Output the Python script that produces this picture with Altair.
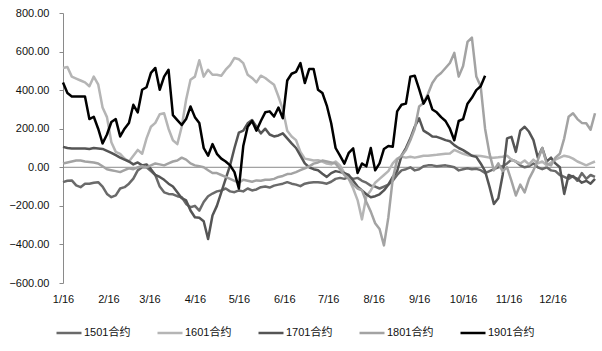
import altair as alt
import pandas as pd

# sample dates (every 3 days) on the month/day axis
dates = pd.date_range("2018-01-16", periods=122, freq="3D").strftime("%Y-%m-%d").tolist()

names = ["1501合约", "1601合约", "1701合约", "1801合约", "1901合约"]

s1501 = [-77, -70, -68, -94, -103, -85, -85, -80, -77, -100,
         -138, -155, -146, -110, -103, -85, -59, -16, 0, 0,
         -20, -40, -100, -130, -138, -140, -150, -155, -190, -207,
         -200, -225, -180, -150, -136, -125, -120, -110, -125, -129,
         -120, -125, -110, -120, -115, -103, -100, -105, -95, -90,
         -85, -77, -85, -90, -98, -85, -80, -78, -77, -80,
         -85, -75, -60, -55, -60, -50, -60, -55, -70, -80,
         -95, -100, -110, -100, -90, -70, -40, -16, -10, 0,
         -16, -10, 5, 10, 10, 5, 8, 10, 5, 0,
         -16, -10, -5, -10, -8, -15, -30, -20, -10, 0,
         5, 20, 40, 30, 10, 0, 5, 20, 0, -10,
         0, -16, -20, -40, -50, -60, -45, -70, -30, -60,
         -40, -50]

s1601 = [515, 520, 470, 460, 450, 440, 420, 470, 430, 310,
         260, 130, 80, 70, 45, 30, 60, 90, 70, 150,
         210, 230, 275, 280, 200, 140, 120, 210, 350, 454,
         470, 555, 470, 506, 480, 480, 475, 506, 530, 567,
         560, 540, 480, 463, 440, 475, 463, 445, 428, 367,
         300, 190, 160, 141, 80, 45, 40, 35, 37, 30,
         19, 15, 30, 10, -30, -60, -110, -170, -270, -150,
         -120, -80, -60, -40, -20, 20, 45, 55, 50, 55,
         50, 55, 60, 60, 63, 65, 68, 70, 72, 90,
         80, 70, 63, 60, 60, 58, 55, 50, 50, 52,
         55, 60, 40, 30, 20, 35, 15, 40, 20, 30,
         10, 25, 40, 50, 60, 55, 45, 30, 20, 10,
         20, 30]

s1701 = [106, 100, 98, 98, 98, 98, 95, 100, 98, 95,
         85, 75, 63, 50, 40, 30, 15, 25, 10, 15,
         -10, -40, -50, -65, -85, -100, -130, -160, -172, -224,
         -259, -262, -280, -372, -250, -200, -130, -60, 10, 100,
         180, 190, 228, 245, 210, 176, 200, 170, 160, 165,
         176, 150, 124, 100, 60, 20, 0, -10, -15, -33,
         -50, -30, -20, -25, -30, -40, -70, -100, -120, -140,
         -155, -150, -140, -120, -90, -50, -20, 60, 100, 150,
         210, 254, 190, 176, 160, 158, 150, 141, 135, 115,
         100, 89, 75, 60, 54, 20, -20, -100, -190, -160,
         -40, 150, 158, 80, 190, 210, 184, 141, 50, 100,
         30, 50, 20, 0, -138, -40, -50, -60, -80, -70,
         -85, -60]

s1801 = [20, 25, 30, 35, 35, 30, 28, 25, 20, 5,
         -10, -15, -20, -25, -15, -5, -10, 0, 5, 0,
         10, 20, 15, 10, 20, 30, 35, 50, 40, 20,
         10, 5, 0, -15, -30, -30, -40, -50, -60, -70,
         -80, -65, -70, -75, -68, -70, -65, -65, -60, -50,
         -45, -35, -33, -25, -15, -5, 5, 19, 25, 35,
         30, 25, 20, -10, -40, -60, -90, -110, -120, -180,
         -230, -290, -320, -405, -260, -60, 40, 60, 90, 140,
         200, 315, 333, 380, 437, 470, 489, 515, 541, 593,
         470, 525, 650, 672, 471, 420, 200, 71, -16, 20,
         -20, 0, -70, -146, -90, -130, -60, -16, 37, 100,
         20, 10, 50, 70, 150, 262, 280, 250, 230, 228,
         195, 280]

s1901 = [440, 385, 367, 367, 367, 367, 250, 262, 200, 124,
         170, 235, 250, 160, 200, 230, 324, 285, 402, 415,
         490, 515, 402, 470, 506, 270, 245, 219, 250, 315,
         260, 230, 100, 60, 120, 70, 45, 30, 10, -25,
         -110, 110, 210, 240, 190, 240, 285, 290, 263, 310,
         254, 450, 485, 495, 540, 437, 510, 510, 402, 385,
         320, 228, 100, 60, 19, 75, 98, -30, 20, 5,
         100, -16, 20, 95, 110, 106, 290, 324, 330, 470,
         475, 405, 330, 370, 300, 285, 260, 240, 200, 140,
         240, 250, 330, 360, 400, 420, 475]

tick_dates = ["2018-%02d-16" % m for m in range(1, 13)]
y_ticks = [-600, -400, -200, 0, 200, 400, 600, 800]

colors = ["#6a6a6a", "#b5b5b5", "#555555", "#a3a3a3", "#000000"]
widths = [2.5, 2.5, 2.5, 2.5, 3]

rows = []
for name, vals in zip(names, [s1501, s1601, s1701, s1801, s1901]):
    for d, v in zip(dates, vals):
        rows.append({"date": d, "series": name, "value": v})
df = pd.DataFrame(rows)


def ms(s):
    return int(pd.Timestamp(s, tz="UTC").value // 10**6)


tick_ms = [ms(d) for d in tick_dates]
domain_ms = [ms(dates[0]), ms(dates[-1])]

FONT = "Liberation Sans, Noto Sans CJK SC, sans-serif"

y_scale = alt.Scale(domain=[-600, 800], nice=False, zero=False)
y_axis = alt.Axis(values=y_ticks, format=".2f", grid=False, title=None,
                  domainColor="#8a8a8a", tickColor="#8a8a8a", tickSize=4,
                  labelPadding=10, labelFontSize=11, labelColor="#111",
                  labelFont=FONT, labelOverlap=False, labelFlush=False)

x_enc = alt.X(
    "date:T",
    scale=alt.Scale(type="utc", domain=domain_ms, nice=False),
    axis=alt.Axis(values=tick_ms, labelExpr="utcFormat(datum.value, '%-m/%d')",
                  domain=False, ticks=False, grid=False, title=None,
                  labelPadding=10, labelFontSize=11, labelColor="#111",
                  labelFont=FONT, labelOverlap=False, labelFlush=False),
)

zero = alt.Chart(pd.DataFrame({"value": [0]})).mark_rule(color="#8a8a8a", strokeWidth=1).encode(
    y=alt.Y("value:Q", scale=y_scale, axis=y_axis)
)

lines = alt.Chart(df).mark_line(strokeJoin="round").encode(
    x=x_enc,
    y=alt.Y("value:Q", scale=y_scale, axis=y_axis),
    color=alt.Color(
        "series:N",
        scale=alt.Scale(domain=names, range=colors),
        legend=alt.Legend(orient="none", legendX=-8, legendY=306, direction="horizontal",
                          title=None, symbolType="stroke", symbolSize=625,
                          symbolStrokeWidth=3, labelFontSize=11, labelFont=FONT,
                          labelColor="#111", labelOffset=1, columnPadding=21),
    ),
    strokeWidth=alt.StrokeWidth("series:N", scale=alt.Scale(domain=names, range=widths), legend=None),
    order=alt.Order("date:T"),
)

chart = alt.layer(zero, lines).properties(
    width=532,
    height=270,
    autosize=alt.AutoSizeParams(type="none"),
    padding={"left": 63, "top": 13, "right": 7, "bottom": 68},
    background="white",
).configure_view(stroke=None)

chart.save("out.html", embed_options={"renderer": "svg", "actions": False})
